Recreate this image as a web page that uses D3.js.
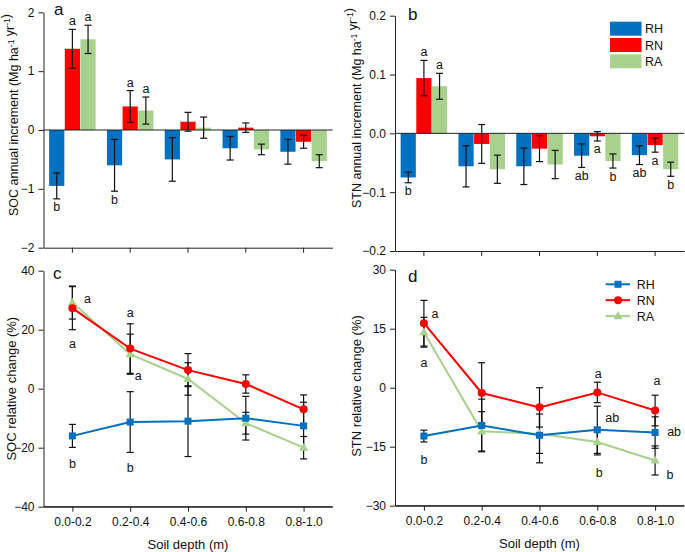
<!DOCTYPE html>
<html>
<head>
<meta charset="utf-8">
<script src="https://cdn.jsdelivr.net/npm/d3@7"></script>
<style>
  body { margin: 0; background: #fff; }
  svg { display: block; font-family: "Liberation Sans", Arial, sans-serif; }
</style>
</head>
<body>
<svg id="chart" width="685" height="552"></svg>
<script>
// ---------------- DATA ----------------
const categories = ["0.0-0.2", "0.2-0.4", "0.4-0.6", "0.6-0.8", "0.8-1.0"];
const seriesNames = ["RH", "RN", "RA"];
const seriesColors = ["#0070C0", "#FF0000", "#A9D18E"];

// (a) SOC annual increment (Mg ha-1 yr-1)
const socIncRH = [-0.95, -0.60, -0.50, -0.31, -0.37];
const socIncRN = [1.38, 0.40, 0.14, 0.04, -0.20];
const socIncRA = [1.54, 0.33, 0.04, -0.33, -0.53];
const socIncErrRH = [0.22, 0.44, 0.37, 0.20, 0.21];
const socIncErrRN = [0.33, 0.27, 0.16, 0.08, 0.11];
const socIncErrRA = [0.24, 0.23, 0.18, 0.09, 0.11];
const socIncLetRH = ["b", "b", "", "", ""];
const socIncLetRN = ["a", "a", "", "", ""];
const socIncLetRA = ["a", "a", "", "", ""];
const socIncTicks = [-2, -1, 0, 1, 2];

// (b) STN annual increment (Mg ha-1 yr-1)
const stnIncRH = [-0.075, -0.056, -0.056, -0.038, -0.037];
const stnIncRN = [0.094, -0.018, -0.026, -0.005, -0.020];
const stnIncRA = [0.080, -0.061, -0.053, -0.047, -0.061];
const stnIncErrRH = [0.009, 0.035, 0.031, 0.020, 0.016];
const stnIncErrRN = [0.030, 0.033, 0.022, 0.008, 0.012];
const stnIncErrRA = [0.022, 0.024, 0.024, 0.012, 0.012];
const stnIncLetRH = ["b", "", "", "ab", "ab"];
const stnIncLetRN = ["a", "", "", "a", "a"];
const stnIncLetRA = ["a", "", "", "b", "b"];
const stnIncTicks = [-0.2, -0.1, 0.0, 0.1, 0.2];

// (c) SOC relative change (%)
const socRelRH = [-16.0, -11.3, -11.0, -10.0, -12.6];
const socRelRN = [27.3, 13.6, 6.3, 1.6, -7.0];
const socRelRA = [29.2, 11.7, 3.3, -11.7, -20.0];
const socRelErrRH = [3.9, 10.3, 12.0, 7.4, 8.0];
const socRelErrRN = [7.3, 8.4, 5.6, 3.1, 4.9];
const socRelErrRA = [5.6, 6.8, 5.5, 3.7, 3.8];
const socRelTicks = [-40, -20, 0, 20, 40];
const socRelLetters = [
  { i: 0, dx: 15, v: 30.6, t: "a" }, { i: 0, dx: 0, v: 15.2, t: "a" }, { i: 0, dx: 0, v: -25.3, t: "b" },
  { i: 1, dx: 0, v: 25.9, t: "a" }, { i: 1, dx: 8, v: 4.6, t: "a" }, { i: 1, dx: 0, v: -26.8, t: "b" }
];

// (d) STN relative change (%)
const stnRelRH = [-12.3, -9.6, -12.1, -10.7, -11.4];
const stnRelRN = [16.4, -1.35, -5.0, -1.2, -5.8];
const stnRelRA = [14.1, -11.1, -11.7, -13.8, -18.5];
const stnRelErrRH = [1.5, 6.7, 7.0, 6.0, 4.0];
const stnRelErrRN = [5.8, 7.7, 5.0, 2.6, 3.9];
const stnRelErrRA = [3.8, 5.0, 5.0, 3.3, 3.7];
const stnRelTicks = [-30, -15, 0, 15, 30];
const stnRelLetters = [
  { i: 0, dx: 11, v: 18.9, t: "a" }, { i: 0, dx: 0, v: 6.3, t: "a" }, { i: 0, dx: 0, v: -18.3, t: "b" },
  { i: 3, dx: 1, v: 3.5, t: "a" }, { i: 3, dx: 15, v: -7.7, t: "ab" }, { i: 3, dx: 2, v: -21.6, t: "b" },
  { i: 4, dx: 2, v: 1.85, t: "a" }, { i: 4, dx: 19, v: -11.2, t: "ab" }, { i: 4, dx: 15, v: -22.2, t: "b" }
];

// ---------------- DRAWING ----------------
const svg = d3.select("#chart");
const AXIS = "#222";

function styleAxis(g) {
  g.selectAll("path, line").attr("stroke", AXIS).attr("stroke-width", 1);
  g.selectAll("text").attr("fill", "#111").style("font-size", "12px")
    .style("font-family", '"Liberation Sans", Arial, sans-serif');
}

function yTitle(x, y, parts, size) {
  const t = svg.append("text")
    .attr("transform", `translate(${x},${y}) rotate(-90)`)
    .attr("text-anchor", "middle")
    .style("font-size", size + "px").attr("fill", "#111");
  parts.forEach(p => {
    if (p.sup) {
      t.append("tspan").attr("dy", -4).style("font-size", "8.5px").text(p.text);
      t.append("tspan").attr("dy", 4).text("");
    } else {
      t.append("tspan").text(p.text);
    }
  });
}

function panelLabel(x, y, s) {
  svg.append("text").attr("x", x).attr("y", y).text(s)
    .style("font-size", "17px").attr("fill", "#111");
}

function barPanel(o) {
  const x = d3.scaleBand().domain(categories).range([o.x0, o.x1]).padding(0);
  const groupW = 46.5;
  const xs = d3.scaleBand().domain(seriesNames).range([0, groupW]).paddingInner(0.03);
  const y = d3.scaleLinear().domain(o.domain).range([o.yBot, o.yTop]);
  const g = svg.append("g");

  seriesNames.forEach((s, si) => {
    const vals = o.values[si], errs = o.errors[si], lets = o.letters[si];
    const bx = i => x(categories[i]) + x.bandwidth() / 2 - groupW / 2 + xs(s);
    const bw = xs.bandwidth();
    g.selectAll(null).data(vals).enter().append("rect")
      .attr("x", (d, i) => bx(i))
      .attr("width", bw)
      .attr("y", d => Math.min(y(0), y(d)))
      .attr("height", d => Math.abs(y(d) - y(0)))
      .attr("fill", seriesColors[si]);
    vals.forEach((v, i) => {
      const cx = bx(i) + bw / 2;
      const e = errs[i];
      const eg = g.append("g").attr("stroke", "#111").attr("stroke-width", 1.2);
      eg.append("line").attr("x1", cx).attr("x2", cx).attr("y1", y(v - e)).attr("y2", y(v + e));
      eg.append("line").attr("x1", cx - 3.5).attr("x2", cx + 3.5).attr("y1", y(v - e)).attr("y2", y(v - e));
      eg.append("line").attr("x1", cx - 3.5).attr("x2", cx + 3.5).attr("y1", y(v + e)).attr("y2", y(v + e));
      if (lets[i]) {
        const ty = v >= 0 ? y(v + e) - 4 : y(v - e) + 12.5;
        g.append("text").attr("x", cx).attr("y", ty).attr("text-anchor", "middle")
          .style("font-size", "12.5px").attr("fill", "#111").text(lets[i]);
      }
    });
  });

  g.append("line").attr("x1", o.x0).attr("x2", o.x1).attr("y1", y(0)).attr("y2", y(0))
    .attr("stroke", AXIS).attr("stroke-width", 1);

  g.append("g").attr("transform", `translate(${o.x0},0)`)
    .call(d3.axisLeft(y).tickValues(o.ticks).tickFormat(o.fmt).tickSize(5).tickPadding(4).tickSizeOuter(0))
    .call(styleAxis);
  g.append("g").attr("transform", `translate(0,${o.yBot})`)
    .call(d3.axisBottom(x).tickSize(5).tickSizeOuter(0).tickFormat(""))
    .call(styleAxis);
}

function linePanel(o) {
  const x = d3.scalePoint().domain(categories).range([o.x0, o.x1]).padding(0.5);
  const y = d3.scaleLinear().domain(o.domain).range([o.yBot, o.yTop]);
  const g = svg.append("g");

  const order = [2, 1, 0];
  const line = d3.line().x((d, i) => x(categories[i])).y(d => y(d));
  order.forEach(si => {
    g.append("path").datum(o.values[si]).attr("d", line)
      .attr("fill", "none").attr("stroke", seriesColors[si]).attr("stroke-width", 2);
  });
  order.forEach(si => {
    o.values[si].forEach((v, i) => {
      const cx = x(categories[i]);
      const e = o.errors[si][i];
      const eg = g.append("g").attr("stroke", "#111").attr("stroke-width", 1.2);
      eg.append("line").attr("x1", cx).attr("x2", cx).attr("y1", y(v - e)).attr("y2", y(v + e));
      eg.append("line").attr("x1", cx - 3.5).attr("x2", cx + 3.5).attr("y1", y(v - e)).attr("y2", y(v - e));
      eg.append("line").attr("x1", cx - 3.5).attr("x2", cx + 3.5).attr("y1", y(v + e)).attr("y2", y(v + e));
    });
  });
  order.forEach(si => {
    o.values[si].forEach((v, i) => {
      drawMarker(g, si, x(categories[i]), y(v));
    });
  });
  o.letters.forEach(l => {
    g.append("text").attr("x", x(categories[l.i]) + l.dx).attr("y", y(l.v)).attr("dy", "0.35em")
      .attr("text-anchor", "middle").style("font-size", "12.5px").attr("fill", "#111").text(l.t);
  });

  g.append("g").attr("transform", `translate(${o.x0},0)`)
    .call(d3.axisLeft(y).tickValues(o.ticks).tickSize(5).tickPadding(4).tickSizeOuter(0))
    .call(styleAxis);
  g.append("g").attr("transform", `translate(0,${o.yBot})`)
    .call(d3.axisBottom(x).tickSize(5).tickPadding(6).tickSizeOuter(0))
    .call(styleAxis);
  g.append("line").attr("x1", o.x0).attr("x2", o.x1).attr("y1", o.yBot).attr("y2", o.yBot)
    .attr("stroke", AXIS).attr("stroke-width", 1);
  svg.append("text").attr("x", x(categories[2])).attr("y", o.yBot + 42)
    .attr("text-anchor", "middle").style("font-size", "13px").attr("fill", "#111")
    .text("Soil depth (m)");
}

function drawMarker(g, si, cx, cy) {
  if (si === 0) {
    g.append("rect").attr("x", cx - 3.5).attr("y", cy - 3.5).attr("width", 7).attr("height", 7)
      .attr("fill", seriesColors[0]);
  } else if (si === 1) {
    g.append("circle").attr("cx", cx).attr("cy", cy).attr("r", 4).attr("fill", seriesColors[1]);
  } else {
    g.append("path").attr("d", d3.symbol(d3.symbolTriangle, 36)())
      .attr("transform", `translate(${cx},${cy + 0.5})`).attr("fill", seriesColors[2]);
  }
}

barPanel({
  x0: 43.5, x1: 332.5, yTop: 12.3, yBot: 247.7, domain: [-2, 2], ticks: socIncTicks, fmt: d3.format("d"),
  values: [socIncRH, socIncRN, socIncRA], errors: [socIncErrRH, socIncErrRN, socIncErrRA],
  letters: [socIncLetRH, socIncLetRN, socIncLetRA]
});
barPanel({
  x0: 395, x1: 684, yTop: 15.7, yBot: 251, domain: [-0.2, 0.2], ticks: stnIncTicks, fmt: d3.format(".1f"),
  values: [stnIncRH, stnIncRN, stnIncRA], errors: [stnIncErrRH, stnIncErrRN, stnIncErrRA],
  letters: [stnIncLetRH, stnIncLetRN, stnIncLetRA]
});
linePanel({
  x0: 43.5, x1: 332.5, yTop: 270.7, yBot: 506.7, domain: [-40, 40], ticks: socRelTicks,
  values: [socRelRH, socRelRN, socRelRA], errors: [socRelErrRH, socRelErrRN, socRelErrRA],
  letters: socRelLetters
});
linePanel({
  x0: 395, x1: 684, yTop: 269.7, yBot: 505.7, domain: [-30, 30], ticks: stnRelTicks,
  values: [stnRelRH, stnRelRN, stnRelRA], errors: [stnRelErrRH, stnRelErrRN, stnRelErrRA],
  letters: stnRelLetters
});

yTitle(17.5, 115, [{ text: "SOC annual increment (Mg ha" }, { text: "-1", sup: true }, { text: " yr" }, { text: "-1", sup: true }, { text: ")" }], 12.5);
yTitle(361, 108, [{ text: "STN annual increment (Mg ha" }, { text: "-1", sup: true }, { text: " yr" }, { text: "-1", sup: true }, { text: ")" }], 12.5);
yTitle(16, 388.7, [{ text: "SOC relative change (%)" }], 13);
yTitle(361, 386, [{ text: "STN relative change (%)" }], 13);

panelLabel(54, 15, "a");
panelLabel(408, 20, "b");
panelLabel(53, 279, "c");
panelLabel(408, 281.7, "d");

const legB = svg.append("g");
seriesNames.forEach((s, i) => {
  const ry = 21.7 + i * 16.3;
  legB.append("rect").attr("x", 610).attr("y", ry).attr("width", 31.5).attr("height", 14).attr("fill", seriesColors[i]);
  legB.append("text").attr("x", 645).attr("y", ry + 11.5).style("font-size", "12.5px").attr("fill", "#111").text(s);
});
const legD = svg.append("g");
seriesNames.forEach((s, i) => {
  const ly = 284.3 + i * 15.9;
  legD.append("line").attr("x1", 605.7).attr("x2", 630).attr("y1", ly).attr("y2", ly)
    .attr("stroke", seriesColors[i]).attr("stroke-width", 2);
  drawMarker(legD, i, 618, ly);
  legD.append("text").attr("x", 636.7).attr("y", ly + 4.5).style("font-size", "12.5px").attr("fill", "#111").text(s);
});
</script>
</body>
</html>
